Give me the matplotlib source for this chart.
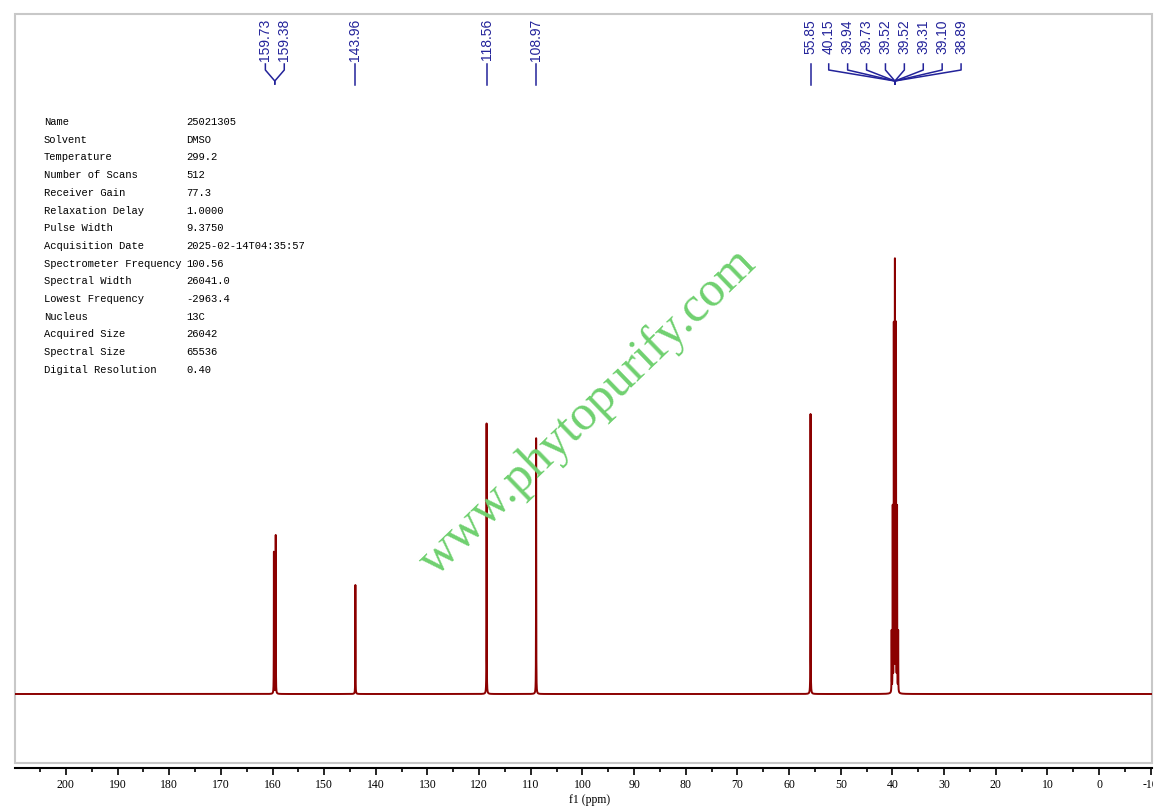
import numpy as np
import matplotlib
matplotlib.use("Agg")
import matplotlib.pyplot as plt
from matplotlib.patches import Rectangle
from matplotlib.transforms import Bbox, TransformedBbox, IdentityTransform, blended_transform_factory

# peak list (ppm, height above baseline)
peak_ppm = [159.73, 159.38, 143.96, 118.56, 108.97, 55.85,
            40.15, 39.94, 39.73, 39.52, 39.31, 39.10, 38.89]
peak_height = [142, 159, 109, 271, 256, 280,
               61, 184, 366, 429, 366, 184, 61]

# labels printed above the peaks, grouped as in the plot
label_groups = [
    ["159.73", "159.38"],
    ["143.96"],
    ["118.56"],
    ["108.97"],
    ["55.85"],
    ["40.15", "39.94", "39.73", "39.52", "39.52", "39.31", "39.10", "38.89"],
]

param_names = ["Name", "Solvent", "Temperature", "Number of Scans", "Receiver Gain",
               "Relaxation Delay", "Pulse Width", "Acquisition Date",
               "Spectrometer Frequency", "Spectral Width", "Lowest Frequency",
               "Nucleus", "Acquired Size", "Spectral Size", "Digital Resolution"]
param_values = ["25021305", "DMSO", "299.2", "512", "77.3", "1.0000", "9.3750",
                "2025-02-14T04:35:57", "100.56", "26041.0", "-2963.4", "13C",
                "26042", "65536", "0.40"]

tick_values = list(range(200, -11, -10))

W, H = 1162, 811
fig = plt.figure(figsize=(W / 100, H / 100), dpi=100)
ax = fig.add_axes([15 / W, (H - 763) / H, (1152 - 15) / W, (763 - 14) / H])

# spectrum: narrow lorentzian lines on a flat baseline
x = np.linspace(210, -10.3, 100000)
y = np.zeros_like(x)
hw = 0.02
for p, h in zip(peak_ppm, peak_height):
    y += h * hw**2 / ((x - p)**2 + hw**2)
ax.plot(x, y, color="#8b0000", lw=1.4)

ax.set_xlim(209.85, -10.25)
ax.set_ylim(-69, 680)

# frame and axis
ax.add_patch(Rectangle((0, 0), 1, 1, transform=ax.transAxes, fill=False,
                       edgecolor="#c8c8c8", lw=1.5, clip_on=False))
for s in ["top", "left", "right"]:
    ax.spines[s].set_visible(False)
ax.spines["bottom"].set_position(("outward", 3.6))
ax.spines["bottom"].set_linewidth(1.5)
ax.set_yticks([])
ax.set_xticks(tick_values)
ax.set_xticks(np.arange(205, -10, -10), minor=True)
ax.set_xticklabels([str(t) for t in tick_values], family="Liberation Serif", fontsize=8.5)
ax.tick_params(axis="x", which="major", length=5, width=1.2, pad=3)
ax.tick_params(axis="x", which="minor", length=3, width=1.2)
ax.set_xlabel("f1 (ppm)", family="Liberation Serif", fontsize=8.5)
ax.xaxis.set_label_coords((590 - 15) / (1152 - 15), -0.042)

clip = TransformedBbox(Bbox([[0, 0], [1153, H]]), IdentityTransform())
for lbl in ax.get_xticklabels():
    lbl.set_clip_box(clip)
    lbl.set_clip_on(True)

# peak labels
trans = blended_transform_factory(ax.transData, ax.transAxes)
def fy(ypx):
    return (763 - ypx) / (763 - 14)

lab_color = "#23239a"
sp = 3.66
for grp in label_groups:
    vals = [float(v) for v in grp]
    c = np.mean(vals)
    n = len(grp)
    for i, txt in enumerate(grp):
        lx = c + ((n - 1) / 2 - i) * sp
        ax.text(lx, fy(19), txt, rotation=90, ha="center", va="top", transform=trans,
                family="Liberation Sans", fontsize=10, color=lab_color)
        if n == 1:
            ax.plot([lx, lx], [fy(64), fy(85)], transform=trans, color=lab_color,
                    lw=1.1, clip_on=False)
        else:
            ax.plot([lx, lx, c, c], [fy(64), fy(70), fy(81), fy(84)], transform=trans,
                    color=lab_color, lw=1.1, clip_on=False)

# acquisition parameters
for i, (k, v) in enumerate(zip(param_names, param_values)):
    ypx = 122 + i * 17.7
    fig.text(44 / W, 1 - ypx / H, k, family="Liberation Mono", fontsize=7.6,
             va="center", ha="left")
    fig.text(186 / W, 1 - ypx / H, v, family="Liberation Mono", fontsize=7.6,
             va="center", ha="left")

# watermark
fig.text(588 / W, 1 - 412 / H, "www.phytopurify.com", rotation=44,
         rotation_mode="anchor", ha="center", va="center", color="#6fd06f",
         family="Liberation Serif", fontsize=36)

fig.savefig("out.png", dpi=100)
